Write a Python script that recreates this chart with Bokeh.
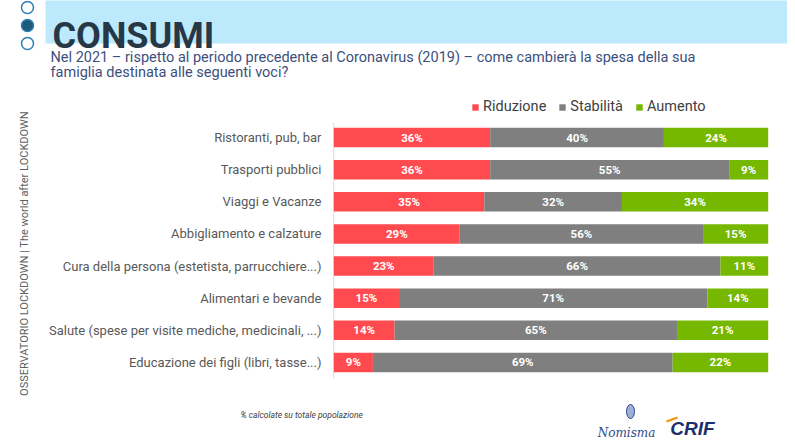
import numpy as np
from bokeh.plotting import figure
from bokeh.models import Range1d, ColumnDataSource, Legend, LegendItem
from bokeh.core.properties import value
from bokeh.embed import file_html
from bokeh.resources import INLINE

# ---- data ----
categories = [
    "Ristoranti, pub, bar",
    "Trasporti pubblici",
    "Viaggi e Vacanze",
    "Abbigliamento e calzature",
    "Cura della persona (estetista, parrucchiere...)",
    "Alimentari e bevande",
    "Salute (spese per visite mediche, medicinali, ...)",
    "Educazione dei figli (libri, tasse...)",
]
riduzione = [36, 36, 35, 29, 23, 15, 14, 9]
stabilita = [40, 55, 32, 56, 66, 71, 65, 69]
aumento = [24, 9, 34, 15, 11, 14, 21, 22]
series_names = ["Riduzione", "Stabilità", "Aumento"]
series_colors = ["#ff4b4f", "#7f7f7f", "#76b700"]

# ---- pixel helpers (positions only) ----
X0, SX = 333.3, 4.344   # x of 0 %, px per %
Y0, SY = 137.0, 32.13   # y of first row, px per row


def dx(px):
    return (px - X0) / SX


def dy(py):
    return (py - Y0) / SY


W, H = 787, 439
p = figure(width=W, height=H, output_backend="svg", toolbar_location=None,
           x_range=Range1d(dx(0), dx(W)), y_range=Range1d(dy(H), dy(0)),
           x_axis_location=None, y_axis_location=None, min_border=0)
p.grid.visible = False
p.outline_line_color = None
p.background_fill_color = "white"

# normalised shares per row
tot = np.array(riduzione) + np.array(stabilita) + np.array(aumento)
r = np.array(riduzione) / tot * 100
s = np.array(stabilita) / tot * 100
a = np.array(aumento) / tot * 100
idx = np.arange(len(categories))
src = ColumnDataSource(dict(idx=idx, Riduzione=r, Stabilità=s, Aumento=a))

# faint axis line
p.segment(x0=[0], y0=[dy(122)], x1=[0], y1=[dy(378)], line_color="#d9d9d9", line_width=1)

rends = p.hbar_stack(series_names, y="idx", height=0.607, color=series_colors,
                     line_color=None, source=src)

# value labels
lx, ly, lt = [], [], []
for i in idx:
    starts = [0, r[i], r[i] + s[i]]
    for st, w, v in zip(starts, [r[i], s[i], a[i]], [riduzione[i], stabilita[i], aumento[i]]):
        lx.append(st + w / 2)
        ly.append(i)
        lt.append(f"{v}%")
p.text(x=lx, y=ly, text=lt, text_align="center", text_baseline="middle",
       text_color="white", text_font=value("Roboto"), text_font_style="bold",
       text_font_size="11.5px")

# category labels
p.text(x=[dx(321)] * len(categories), y=list(idx), text=categories,
       text_align="right", text_baseline="middle", text_color="#595959",
       text_font=value("Roboto"), text_font_size="13px")

# legend
legend = Legend(items=[LegendItem(label=n, renderers=[rr]) for n, rr in zip(series_names, rends)],
                orientation="horizontal", location=(471, H - 115),
                glyph_width=8, glyph_height=8, label_standoff=4, spacing=12,
                padding=0, margin=0, border_line_color=None, background_fill_alpha=0,
                label_text_font="Roboto", label_text_font_size="14.5px",
                label_text_color="#404040")
p.add_layout(legend)

# header banner
p.quad(left=[dx(45)], right=[dx(800)], top=[dy(-5)], bottom=[dy(43)],
       fill_color="#bde9fc", line_color=None)
p.scatter(x=[dx(27)] * 3, y=[dy(7), dy(25), dy(43)], size=12, marker="circle",
          fill_color=["white", "#1b5b7c", "white"], line_color="#2b7db3", line_width=1.5)
p.text(x=[dx(52)], y=[dy(35)], text=["CONSUMI"], text_align="left",
       text_baseline="alphabetic", text_color="#263746", text_font=value("Roboto"),
       text_font_style="bold", text_font_size="36px")

# question
p.text(x=[dx(50), dx(50)], y=[dy(57), dy(72)],
       text=["Nel 2021 – rispetto al periodo precedente al Coronavirus (2019) – come cambierà la spesa della sua",
             "famiglia destinata alle seguenti voci?"],
       text_align="left", text_baseline="middle", text_color="#3c4f7e",
       text_font=value("Roboto"), text_font_size="14.5px")

# vertical side text
p.text(x=[dx(24)], y=[dy(253)], text=["OSSERVATORIO LOCKDOWN | The world after LOCKDOWN"],
       angle=np.pi / 2, text_align="center", text_baseline="middle", text_color="#606060",
       text_font=value("Roboto"), text_font_size="11px")

# footnote
p.text(x=[dx(240)], y=[dy(414)], text=["% calcolate su totale popolazione"],
       text_align="left", text_baseline="middle", text_color="#404040",
       text_font=value("Roboto"), text_font_style="italic", text_font_size="8.5px")

# logos (text approximations)
p.ellipse(x=[dx(630)], y=[dy(411)], width=[8 / SX], height=[14 / SY],
          fill_color="#9fb0d8", line_color="#2d4a8a", line_width=1)
p.text(x=[dx(626)], y=[dy(432)], text=["Nomisma"], text_align="center",
       text_baseline="middle", text_color="#2d4a8a", text_font=value("DejaVu Serif"),
       text_font_style="italic", text_font_size="12px")
p.text(x=[dx(692)], y=[dy(428)], text=["CRIF"], text_align="center",
       text_baseline="middle", text_color="#1b2f6b", text_font=value("Liberation Sans"),
       text_font_style="bold italic", text_font_size="19px")
p.segment(x0=[dx(666)], y0=[dy(421)], x1=[dx(677)], y1=[dy(417)],
          line_color="#f39200", line_width=2)

open("out.html", "w").write(file_html(p, INLINE))
